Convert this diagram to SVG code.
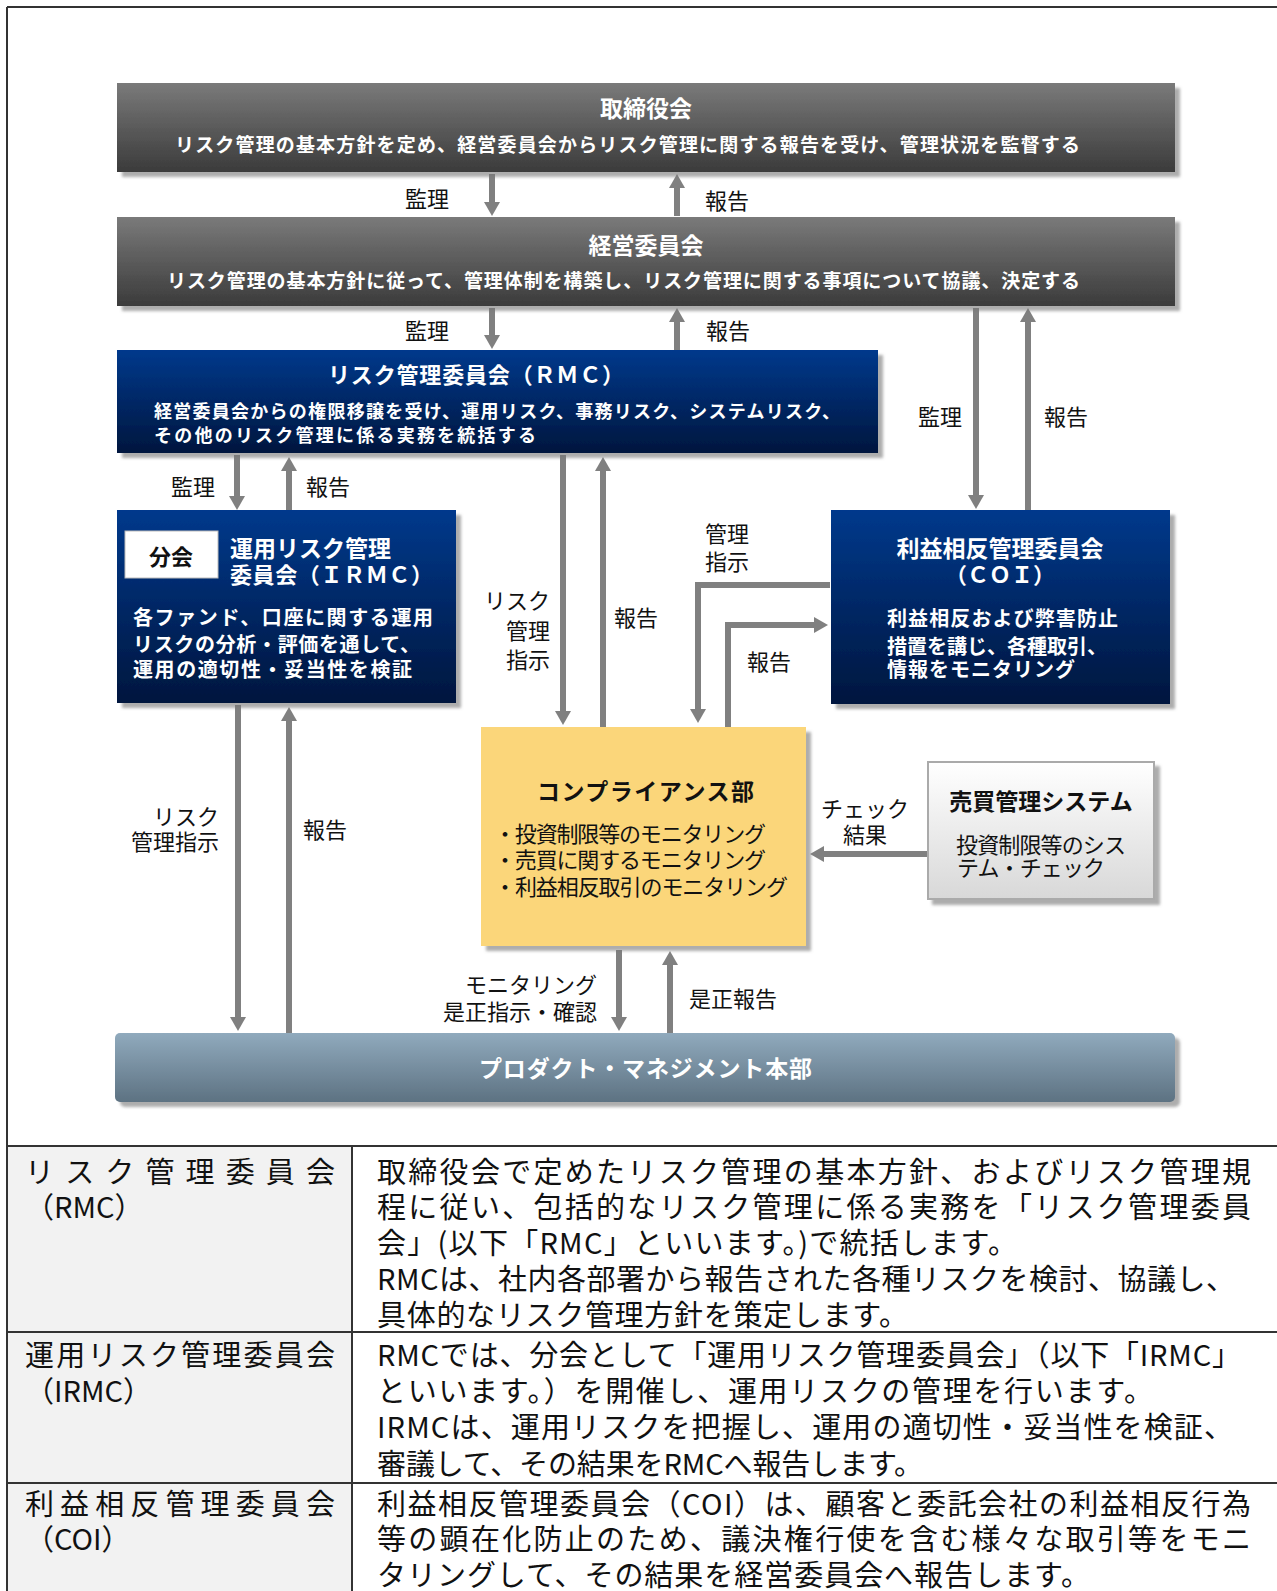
<svg xmlns="http://www.w3.org/2000/svg" width="1277" height="1591" viewBox="0 0 1277 1591">
<style>
text{font-family:"Noto Sans CJK JP","Noto Sans",sans-serif;dominant-baseline:central}
.lbl{font-size:22px;fill:#111}
.wt{fill:#fff;font-weight:bold}
.bk{fill:#111;font-weight:bold}
.tb{font-size:29px;fill:#111}
.ln{fill:none;stroke:#808080;stroke-width:6}
.fr{stroke:#333;stroke-width:2;fill:none}
</style>
<defs>
<linearGradient id="gGray" x1="0" y1="0" x2="0" y2="1"><stop offset="0" stop-color="#7a7a7a"/><stop offset="1" stop-color="#3b3b3b"/></linearGradient>
<linearGradient id="gBlue" x1="0" y1="0" x2="0" y2="1"><stop offset="0" stop-color="#00398c"/><stop offset="1" stop-color="#00163e"/></linearGradient>
<linearGradient id="gSteel" x1="0" y1="0" x2="0" y2="1"><stop offset="0" stop-color="#90aabd"/><stop offset="1" stop-color="#5d7282"/></linearGradient>
<linearGradient id="gLight" x1="0" y1="0" x2="0" y2="1"><stop offset="0" stop-color="#ffffff"/><stop offset="1" stop-color="#d8d8d8"/></linearGradient>
<filter id="sh" x="-5%" y="-5%" width="115%" height="130%"><feDropShadow dx="5" dy="5" stdDeviation="1.5" flood-color="#777" flood-opacity="0.6"/></filter>
<marker id="ah" markerUnits="userSpaceOnUse" markerWidth="16" markerHeight="16" refX="1" refY="8" orient="auto"><path d="M0,0 L14,8 L0,16 z" fill="#808080"/></marker>
</defs>
<rect width="1277" height="1591" fill="#fff"/>
<rect x="8" y="1146" width="344" height="445" fill="#f2f2f2"/>
<g id="frame">
<line class="fr" x1="7" y1="7" x2="1277" y2="7"/>
<line class="fr" x1="7" y1="7" x2="7" y2="1591"/>
<line class="fr" x1="7" y1="1146" x2="1277" y2="1146"/>
<line class="fr" x1="7" y1="1332" x2="1277" y2="1332"/>
<line class="fr" x1="7" y1="1483" x2="1277" y2="1483"/>
<line class="fr" x1="352" y1="1146" x2="352" y2="1591"/>
</g>
<g id="connectors">
<path class="ln" d="M492,174 V203" marker-end="url(#ah)"/>
<path class="ln" d="M677,216 V187" marker-end="url(#ah)"/>
<path class="ln" d="M492,308 V336" marker-end="url(#ah)"/>
<path class="ln" d="M677,350 V321" marker-end="url(#ah)"/>
<path class="ln" d="M976,308 V496" marker-end="url(#ah)"/>
<path class="ln" d="M1028,510 V321" marker-end="url(#ah)"/>
<path class="ln" d="M237,455 V497" marker-end="url(#ah)"/>
<path class="ln" d="M289,510 V470" marker-end="url(#ah)"/>
<path class="ln" d="M563,455 V712" marker-end="url(#ah)"/>
<path class="ln" d="M603,727 V470" marker-end="url(#ah)"/>
<path class="ln" d="M830,585 H698 V710" marker-end="url(#ah)"/>
<path class="ln" d="M728,727 V625 H815" marker-end="url(#ah)"/>
<path class="ln" d="M927,854 H823" marker-end="url(#ah)"/>
<path class="ln" d="M238,705 V1018" marker-end="url(#ah)"/>
<path class="ln" d="M289,1033 V720" marker-end="url(#ah)"/>
<path class="ln" d="M619,950 V1018" marker-end="url(#ah)"/>
<path class="ln" d="M670,1033 V964" marker-end="url(#ah)"/>
</g>
<g id="labels">
<text class="lbl" x="427" y="197" text-anchor="middle">監理</text>
<text class="lbl" x="727" y="199" text-anchor="middle">報告</text>
<text class="lbl" x="427" y="329" text-anchor="middle">監理</text>
<text class="lbl" x="728" y="329" text-anchor="middle">報告</text>
<text class="lbl" x="940" y="415" text-anchor="middle">監理</text>
<text class="lbl" x="1066" y="415" text-anchor="middle">報告</text>
<text class="lbl" x="193" y="485" text-anchor="middle">監理</text>
<text class="lbl" x="328" y="485" text-anchor="middle">報告</text>
<text class="lbl" x="550" y="599" text-anchor="end">リスク</text>
<text class="lbl" x="550" y="629" text-anchor="end">管理</text>
<text class="lbl" x="550" y="658" text-anchor="end">指示</text>
<text class="lbl" x="636" y="616" text-anchor="middle">報告</text>
<text class="lbl" x="727" y="532" text-anchor="middle">管理</text>
<text class="lbl" x="727" y="560" text-anchor="middle">指示</text>
<text class="lbl" x="769" y="660" text-anchor="middle">報告</text>
<text class="lbl" x="865" y="807" text-anchor="middle">チェック</text>
<text class="lbl" x="865" y="833" text-anchor="middle">結果</text>
<text class="lbl" x="219" y="815" text-anchor="end">リスク</text>
<text class="lbl" x="219" y="840" text-anchor="end">管理指示</text>
<text class="lbl" x="325" y="828" text-anchor="middle">報告</text>
<text class="lbl" x="597" y="983" text-anchor="end">モニタリング</text>
<text class="lbl" x="597" y="1010" text-anchor="end">是正指示・確認</text>
<text class="lbl" x="733" y="997" text-anchor="middle">是正報告</text>
</g>
<g id="board">
<rect x="117" y="83" width="1058" height="89" fill="url(#gGray)" filter="url(#sh)"/>
<text class="wt" x="646" y="107" font-size="23" text-anchor="middle">取締役会</text>
<text class="wt" x="175" y="143" font-size="19" textLength="905">リスク管理の基本方針を定め、経営委員会からリスク管理に関する報告を受け、管理状況を監督する</text>
</g>
<g id="exec">
<rect x="117" y="217" width="1058" height="89" fill="url(#gGray)" filter="url(#sh)"/>
<text class="wt" x="646" y="244" font-size="23" text-anchor="middle">経営委員会</text>
<text class="wt" x="167" y="279" font-size="19" textLength="913">リスク管理の基本方針に従って、管理体制を構築し、リスク管理に関する事項について協議、決定する</text>
</g>
<g id="rmc">
<rect x="117" y="350" width="761" height="103" fill="url(#gBlue)" filter="url(#sh)"/>
<text class="wt" x="328" y="373" font-size="22" textLength="296">リスク管理委員会（ＲＭＣ）</text>
<text class="wt" x="154" y="410" font-size="18" textLength="686">経営委員会からの権限移譲を受け、運用リスク、事務リスク、システムリスク、</text>
<text class="wt" x="154" y="434" font-size="18" textLength="382">その他のリスク管理に係る実務を統括する</text>
</g>
<g id="irmc">
<rect x="117" y="510" width="339" height="193" fill="url(#gBlue)" filter="url(#sh)"/>
<rect x="125" y="531" width="93" height="47" fill="#fff" stroke="#bbb" stroke-width="1"/>
<text class="bk" x="171" y="555" font-size="22" text-anchor="middle">分会</text>
<text class="wt" x="230" y="547" font-size="23">運用リスク管理</text>
<text class="wt" x="230" y="573" font-size="22" textLength="203">委員会（ＩＲＭＣ）</text>
<text class="wt" x="133" y="616" font-size="20" textLength="300">各ファンド、口座に関する運用</text>
<text class="wt" x="133" y="643" font-size="20" textLength="287">リスクの分析・評価を通して、</text>
<text class="wt" x="133" y="668" font-size="20" textLength="279">運用の適切性・妥当性を検証</text>
</g>
<g id="coi">
<rect x="831" y="510" width="339" height="194" fill="url(#gBlue)" filter="url(#sh)"/>
<text class="wt" x="1000" y="547" font-size="23" text-anchor="middle">利益相反管理委員会</text>
<text class="wt" x="1000" y="573" font-size="22" text-anchor="middle">（ＣＯＩ）</text>
<text class="wt" x="887" y="617" font-size="20" textLength="231">利益相反および弊害防止</text>
<text class="wt" x="887" y="645" font-size="20" textLength="220">措置を講じ、各種取引、</text>
<text class="wt" x="887" y="668" font-size="20" textLength="188">情報をモニタリング</text>
</g>
<g id="compliance">
<rect x="481" y="727" width="325" height="219" fill="#fbd67a" filter="url(#sh)"/>
<text class="bk" x="537" y="790" font-size="23" textLength="217">コンプライアンス部</text>
<text class="lbl" x="494" y="832" font-size="20" textLength="272">・投資制限等のモニタリング</text>
<text class="lbl" x="494" y="858" font-size="20" textLength="272">・売買に関するモニタリング</text>
<text class="lbl" x="494" y="885" font-size="20" textLength="294">・利益相反取引のモニタリング</text>
</g>
<g id="sales">
<rect x="928" y="762" width="226" height="137" fill="url(#gLight)" stroke="#aaa" stroke-width="2" filter="url(#sh)"/>
<text class="bk" x="1041" y="800" font-size="23" text-anchor="middle">売買管理システム</text>
<text class="lbl" x="956" y="843" font-size="20" textLength="170">投資制限等のシス</text>
<text class="lbl" x="957" y="866" font-size="20" textLength="148">テム・チェック</text>
</g>
<g id="product">
<rect x="115" y="1033" width="1060" height="69" rx="5" fill="url(#gSteel)" filter="url(#sh)"/>
<text class="wt" x="479" y="1067" font-size="23" textLength="333">プロダクト・マネジメント本部</text>
</g>
<g id="table">
<text class="tb" x="25" y="1170" textLength="310">リスク管理委員会</text>
<text class="tb" x="25" y="1205">（RMC）</text>
<text class="tb" x="25" y="1353" textLength="310">運用リスク管理委員会</text>
<text class="tb" x="25" y="1389">（IRMC）</text>
<text class="tb" x="25" y="1502" textLength="310">利益相反管理委員会</text>
<text class="tb" x="25" y="1537">（COI）</text>
<text class="tb" x="377" y="1170" textLength="874">取締役会で定めたリスク管理の基本方針、およびリスク管理規</text>
<text class="tb" x="377" y="1205" textLength="874">程に従い、包括的なリスク管理に係る実務を「リスク管理委員</text>
<text class="tb" x="377" y="1241" textLength="640">会」(以下「RMC」といいます。)で統括します。</text>
<text class="tb" x="377" y="1277" textLength="858">RMCは、社内各部署から報告された各種リスクを検討、協議し、</text>
<text class="tb" x="377" y="1313" textLength="531">具体的なリスク管理方針を策定します。</text>
<text class="tb" x="377" y="1353" textLength="864">RMCでは、分会として「運用リスク管理委員会」（以下「IRMC」</text>
<text class="tb" x="377" y="1389" textLength="776">といいます。）を開催し、運用リスクの管理を行います。</text>
<text class="tb" x="377" y="1425" textLength="856">IRMCは、運用リスクを把握し、運用の適切性・妥当性を検証、</text>
<text class="tb" x="377" y="1462" textLength="546">審議して、その結果をRMCへ報告します。</text>
<text class="tb" x="377" y="1502" textLength="874">利益相反管理委員会（COI）は、顧客と委託会社の利益相反行為</text>
<text class="tb" x="377" y="1537" textLength="874">等の顕在化防止のため、議決権行使を含む様々な取引等をモニ</text>
<text class="tb" x="377" y="1573" textLength="713">タリングして、その結果を経営委員会へ報告します。</text>
</g>
</svg>
